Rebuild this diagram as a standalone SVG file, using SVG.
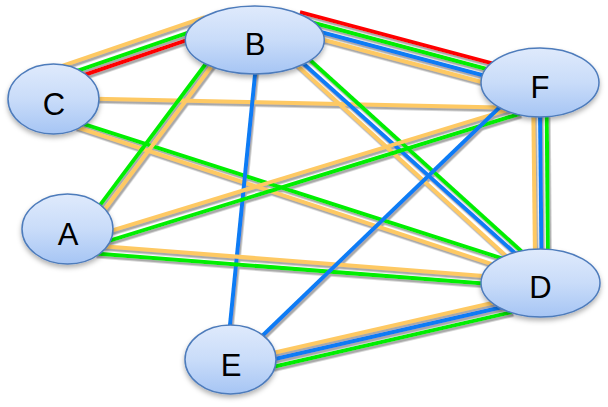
<svg xmlns="http://www.w3.org/2000/svg" width="608" height="407" viewBox="0 0 608 407">
  <defs>
    <linearGradient id="nodeFill" x1="0" y1="0" x2="0" y2="1">
      <stop offset="0" stop-color="#dfeafc"/>
      <stop offset="0.5" stop-color="#c9dcf9"/>
      <stop offset="1" stop-color="#a6c5f4"/>
    </linearGradient>
    <filter id="lineShadow" x="-10%" y="-10%" width="120%" height="120%">
      <feDropShadow dx="1.5" dy="2.5" stdDeviation="0.7" flood-color="#8c8c8c" flood-opacity="0.75"/>
    </filter>
    <filter id="nodeShadow" x="-20%" y="-20%" width="140%" height="150%">
      <feDropShadow dx="0" dy="3" stdDeviation="2.5" flood-color="#000" flood-opacity="0.3"/>
    </filter>
  </defs>
  <style>
    .e { stroke-width: 4; fill: none; stroke-linecap: butt; }
    .o { stroke: #fec964; }
    .g { stroke: #00ee00; }
    .b { stroke: #0f7cf5; }
    .r { stroke: #ff0000; }
    .node ellipse { fill: url(#nodeFill); stroke: #4d7bbb; stroke-width: 1.5; filter: url(#nodeShadow); }
    .node text { font-family: "Liberation Sans", Arial, sans-serif; font-size: 31px; fill: #000; text-anchor: middle; }
  </style>
  <rect width="608" height="407" fill="#ffffff"/>
  <g id="connectors" filter="url(#lineShadow)">
    <!-- B-C -->
    <line class="e o" x1="60" y1="66.7" x2="205" y2="17.1"/>
    <line class="e g" x1="62" y1="76.2" x2="200" y2="28.6"/>
    <line class="e r" x1="65" y1="81.5" x2="200" y2="35.6"/>
    <!-- B-F -->
    <line class="e r" x1="300" y1="12.1" x2="495" y2="64.1"/>
    <line class="e g" x1="300" y1="19.3" x2="495" y2="71.3"/>
    <line class="e b" x1="300" y1="26.5" x2="495" y2="78.5"/>
    <line class="e o" x1="300" y1="33.5" x2="495" y2="85.5"/>
    <!-- C-F -->
    <line class="e o" x1="95" y1="98.8" x2="500" y2="107.5"/>
    <!-- C-D -->
    <line class="e g" x1="80" y1="122.9" x2="505" y2="259.3"/>
    <line class="e o" x1="75" y1="126.7" x2="495" y2="265.2"/>
    <!-- B-A -->
    <line class="e g" x1="210" y1="58.3" x2="95" y2="211.9"/>
    <line class="e o" x1="215" y1="61.6" x2="100" y2="215.7"/>
    <!-- B-E -->
    <line class="e b" x1="256" y1="65" x2="229.5" y2="330"/>
    <!-- B-D -->
    <line class="e g" x1="305" y1="55.6" x2="525" y2="254.5"/>
    <line class="e b" x1="300" y1="60.5" x2="518" y2="255.8"/>
    <line class="e o" x1="295" y1="63.6" x2="510" y2="259.5"/>
    <!-- A-F -->
    <line class="e o" x1="105" y1="232.6" x2="510" y2="109.2"/>
    <line class="e g" x1="105" y1="242.1" x2="520" y2="113.8"/>
    <!-- A-D -->
    <line class="e o" x1="100" y1="245.9" x2="490" y2="276.5"/>
    <line class="e g" x1="95" y1="253.6" x2="490" y2="284"/>
    <!-- E-F -->
    <line class="e b" x1="258" y1="340" x2="502" y2="105"/>
    <!-- E-D -->
    <line class="e o" x1="265" y1="354.7" x2="500" y2="301.1"/>
    <line class="e b" x1="265" y1="361.2" x2="505" y2="306.5"/>
    <line class="e g" x1="265" y1="368.7" x2="512" y2="312.1"/>
    <!-- F-D -->
    <line class="e o" x1="533.3" y1="110" x2="535" y2="260"/>
    <line class="e b" x1="540" y1="110" x2="541.5" y2="260"/>
    <line class="e g" x1="546.7" y1="110" x2="548" y2="260"/>
  </g>
  <g id="node-B" class="node">
    <ellipse cx="254.8" cy="40" rx="69.5" ry="34"/>
    <text x="255" y="55">B</text>
  </g>
  <g id="node-C" class="node">
    <ellipse cx="53.5" cy="99" rx="45.5" ry="35"/>
    <text x="54" y="115">C</text>
  </g>
  <g id="node-F" class="node">
    <ellipse cx="540" cy="82.5" rx="59" ry="34.5"/>
    <text x="540" y="98">F</text>
  </g>
  <g id="node-A" class="node">
    <ellipse cx="67.5" cy="229" rx="45.5" ry="35"/>
    <text x="68" y="245">A</text>
  </g>
  <g id="node-E" class="node">
    <ellipse cx="230.5" cy="359.5" rx="45.5" ry="34.5"/>
    <text x="231" y="375.5">E</text>
  </g>
  <g id="node-D" class="node">
    <ellipse cx="540.5" cy="283" rx="59.5" ry="34"/>
    <text x="540.5" y="298">D</text>
  </g>
</svg>
